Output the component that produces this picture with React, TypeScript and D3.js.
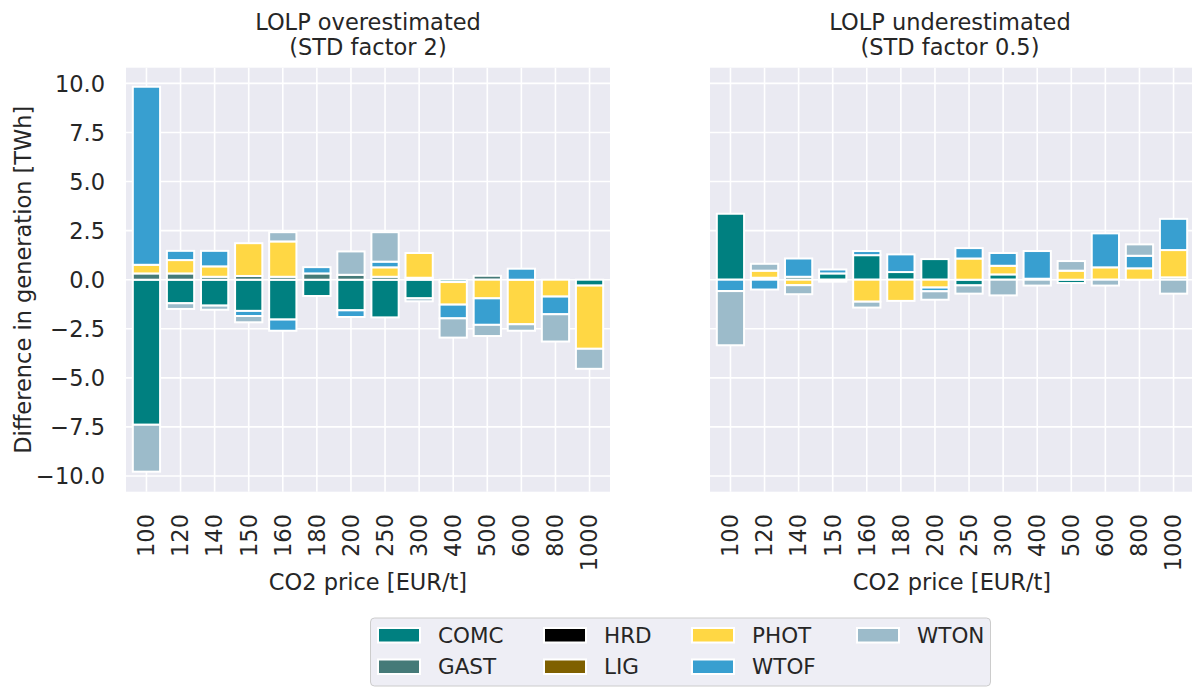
import { useEffect, useRef } from 'react'
import * as d3 from 'd3'

const categories = ['100', '120', '140', '150', '160', '180', '200', '250', '300', '400', '500', '600', '800', '1000']
const seriesNames = ['COMC', 'GAST', 'HRD', 'LIG', 'PHOT', 'WTOF', 'WTON']
const seriesColors = ['#008080', '#457a78', '#000000', '#7f6000', '#ffd744', '#389fd0', '#9cbbca']
const yTicks = [-10, -7.5, -5, -2.5, 0, 2.5, 5, 7.5, 10]

// LOLP overestimated (STD factor 2), difference in TWh
const overCOMC = [-7.39, -1.2, -1.32, -1.59, -2.03, -0.83, -1.56, -1.92, -0.95, -0.12, 0, 0, 0, -0.3]
const overGAST = [0.32, 0.32, 0.15, 0.19, 0.15, 0.32, 0.25, 0.15, 0.1, 0, 0.2, 0, 0, 0]
const overHRD = [0, 0, 0, 0, 0, 0, 0, 0, 0, 0, 0, 0, 0, 0]
const overLIG = [0, 0, 0, 0, 0, 0, 0, 0, 0, 0, 0, 0, 0, 0]
const overPHOT = [0.44, 0.68, 0.53, 1.67, 1.8, 0, 0, 0.48, 1.26, -1.15, -0.95, -2.27, -0.86, -3.22]
const overWTOF = [9.07, 0.47, 0.79, -0.26, -0.57, 0.32, -0.34, 0.29, 0, -0.7, -1.35, 0.56, -0.9, 0]
const overWTON = [-2.39, -0.29, -0.21, -0.32, 0.47, 0, 1.19, 1.5, -0.15, -0.98, -0.57, -0.33, -1.39, -1.02]

// LOLP underestimated (STD factor 0.5), difference in TWh
const underCOMC = [3.36, 0, 0, 0.32, 1.25, 0.39, 1.05, -0.29, 0.27, 0, -0.17, 0, 0, 0]
const underGAST = [0, 0.1, 0.15, 0, 0, 0, 0, 0, 0, 0, 0, 0, 0, 0.12]
const underHRD = [0, 0, 0, 0, 0, 0, 0, 0, 0, 0, 0, 0, 0, 0]
const underLIG = [0, 0, 0, 0, 0, 0, 0, 0, 0, 0, 0, 0, 0, 0]
const underPHOT = [0, 0.36, -0.28, 0, -1.12, -1.08, -0.4, 1.08, 0.44, 0.05, 0.46, 0.63, 0.58, 1.39]
const underWTOF = [-0.58, -0.5, 0.93, 0.2, 0.21, 0.9, -0.19, 0.53, 0.65, 1.41, 0, 1.73, 0.64, 1.59]
const underWTON = [-2.76, 0.35, -0.46, -0.1, -0.3, 0, -0.43, -0.42, -0.8, -0.3, 0.49, -0.3, 0.58, -0.71]

const panels = [
  { title: ['LOLP overestimated', '(STD factor 2)'], values: [overCOMC, overGAST, overHRD, overLIG, overPHOT, overWTOF, overWTON], x0: 126, x1: 610, yLabels: true },
  { title: ['LOLP underestimated', '(STD factor 0.5)'], values: [underCOMC, underGAST, underHRD, underLIG, underPHOT, underWTOF, underWTON], x0: 710, x1: 1194, yLabels: false },
]

const WIDTH = 1192
const HEIGHT = 687
const TOP = 67.7
const BOTTOM = 491.7
const FONT = '"DejaVu Sans", sans-serif'
const TEXT = '#262626'
const FS = '22.5px'

export default function App() {
  const ref = useRef<SVGSVGElement>(null)

  useEffect(() => {
    const svg = d3.select(ref.current)
    svg.selectAll('*').remove()

    const y = d3.scaleLinear().domain([-10.8, 10.8]).range([BOTTOM, TOP])
    const fmt = d3.format('.1f')

    panels.forEach((p) => {
      const x = d3.scaleLinear().domain([-0.6, categories.length - 0.4]).range([p.x0, p.x1])
      const barW = x(0.8) - x(0)
      const g = svg.append('g')

      g.append('rect')
        .attr('x', p.x0).attr('y', TOP).attr('width', p.x1 - p.x0).attr('height', BOTTOM - TOP)
        .attr('fill', '#eaeaf2')

      // grid
      g.selectAll('line.hg').data(yTicks).enter().append('line')
        .attr('x1', p.x0).attr('x2', p.x1).attr('y1', d => y(d)).attr('y2', d => y(d))
        .attr('stroke', '#fff').attr('stroke-width', 1.6)
      g.selectAll('line.vg').data(categories).enter().append('line')
        .attr('x1', (d, i) => x(i)).attr('x2', (d, i) => x(i)).attr('y1', TOP).attr('y2', BOTTOM)
        .attr('stroke', '#fff').attr('stroke-width', 1.6)

      // stacked bars: positives upward, negatives downward, in series order
      const pos = categories.map(() => 0)
      const neg = categories.map(() => 0)
      p.values.forEach((vals, s) => {
        const segs = vals.map((v, i) => {
          let lo, hi
          if (v > 0) { lo = pos[i]; hi = pos[i] + v; pos[i] = hi }
          else { hi = neg[i]; lo = neg[i] + v; neg[i] = lo }
          return { i, v, lo, hi }
        }).filter(d => d.v !== 0)
        g.selectAll(`rect.s${s}`).data(segs).enter().append('rect')
          .attr('x', d => x(d.i) - barW / 2).attr('width', barW)
          .attr('y', d => y(d.hi)).attr('height', d => y(d.lo) - y(d.hi))
          .attr('fill', seriesColors[s])
          .attr('stroke', '#fff').attr('stroke-width', 2)
      })

      // x tick labels
      g.selectAll('text.xt').data(categories).enter().append('text')
        .attr('transform', (d, i) => `translate(${x(i)},514) rotate(-90)`)
        .attr('text-anchor', 'end').attr('dy', '0.35em')
        .style('font-family', FONT).style('font-size', FS).attr('fill', TEXT)
        .text(d => d)

      g.append('text')
        .attr('x', (p.x0 + p.x1) / 2).attr('y', 590)
        .attr('text-anchor', 'middle')
        .style('font-family', FONT).style('font-size', FS).attr('fill', TEXT)
        .text('CO2 price [EUR/t]')

      const cx = (p.x0 + Math.min(p.x1, WIDTH + 6)) / 2 - (p.x1 > WIDTH ? 2 : 0)
      p.title.forEach((t, k) => {
        g.append('text')
          .attr('x', cx).attr('y', 30 + k * 24.5)
          .attr('text-anchor', 'middle')
          .style('font-family', FONT).style('font-size', FS).attr('fill', TEXT)
          .text(t)
      })

      if (p.yLabels) {
        g.selectAll('text.yt').data(yTicks).enter().append('text')
          .attr('x', p.x0 - 21).attr('y', d => y(d)).attr('dy', '0.36em')
          .attr('text-anchor', 'end')
          .style('font-family', FONT).style('font-size', FS).attr('fill', TEXT)
          .text(d => fmt(d))
        g.append('text')
          .attr('transform', `translate(31,${(TOP + BOTTOM) / 2}) rotate(-90)`)
          .attr('text-anchor', 'middle')
          .style('font-family', FONT).style('font-size', FS).attr('fill', TEXT)
          .text('Difference in generation [TWh]')
      }
    })

    // legend, 4 columns, filled column by column
    const lx = 370, ly = 617.5
    const legend = svg.append('g').attr('transform', `translate(${lx},${ly})`)
    legend.append('rect')
      .attr('x', 0.5).attr('y', 0.5).attr('width', 620).attr('height', 68).attr('rx', 4)
      .attr('fill', '#eeeef5').attr('stroke', '#cccccc').attr('stroke-width', 1)
    const colX = [8, 174, 322, 487]
    const items = seriesNames.map((name, k) => ({ name, color: seriesColors[k], col: Math.floor(k / 2), row: k % 2 }))
    legend.selectAll('rect.h').data(items).enter().append('rect')
      .attr('x', d => colX[d.col]).attr('y', d => 10.5 + d.row * 31.5)
      .attr('width', 42).attr('height', 14.5)
      .attr('fill', d => d.color).attr('stroke', '#fff').attr('stroke-width', 2)
    legend.selectAll('text.l').data(items).enter().append('text')
      .attr('x', d => colX[d.col] + 60).attr('y', d => 25.5 + d.row * 31.3)
      .style('font-family', FONT).style('font-size', '21.5px').attr('fill', TEXT)
      .text(d => d.name)
  }, [])

  return (
    <div style={{ position: 'absolute', left: 0, top: 0 }}>
      <svg ref={ref} width={WIDTH} height={HEIGHT} style={{ display: 'block', background: '#fff' }} />
    </div>
  )
}
